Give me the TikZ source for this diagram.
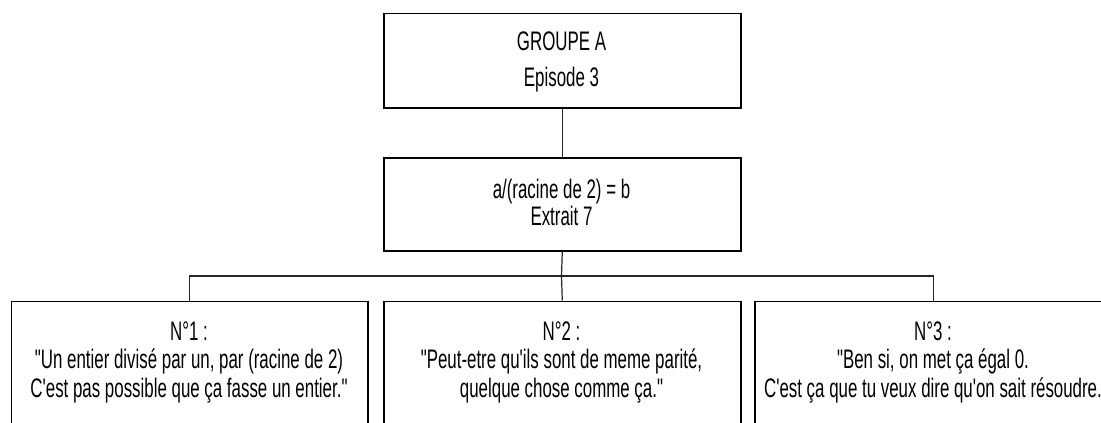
\documentclass[tikz,border=0pt]{standalone}
\usepackage{fontspec}
\setmainfont{Liberation Sans}[FakeStretch=0.63, Ligatures=TeXOff]
\begin{document}
\begin{tikzpicture}[x=1pt,y=-1pt,
  box/.style={draw=black, line width=1.6pt, rectangle, inner sep=0pt, anchor=north west},
  conn/.style={draw=black!85, line width=1.2pt},
  txt/.style={anchor=base, inner sep=0pt, font=\fontsize{26.8}{28}\selectfont}]
\useasboundingbox (0,0) rectangle (1101,423);
\clip (0,0) rectangle (1101,423);
\fill[white] (0,0) rectangle (1101,423);
% boxes
\node[box, minimum width=357pt, minimum height=94.3pt] (top) at (383,12.7) {};
\node[box, minimum width=357pt, minimum height=93pt] (mid) at (383,157) {};
\node[box, minimum width=356.3pt, minimum height=160pt] (b1) at (10.7,300.5) {};
\node[box, minimum width=357pt, minimum height=160pt] (b2) at (383,300.5) {};
\node[box, minimum width=358pt, minimum height=160pt] (b3) at (754,300.5) {};
\coordinate (bus) at (561.5,276);
% connectors
\draw[conn] (top.south) -- (mid.north);
\draw[conn] (mid.south) -- (bus);
\draw[conn] (b1.north) -- (b1.north |- bus) -- (b3.north |- bus) -- (b3.north);
\draw[conn] (bus) -- (b2.north);
% texts
\node[txt] (t1) at (561.5,50) {GROUPE A};
\node[txt] (t2) at (561.5,86) {Episode 3};
\node[txt] (m1) at (561.5,198) {a/(racine de 2) = b};
\node[txt] (m2) at (561.5,225) {Extrait 7};
\node[txt] (a1) at (189,340) {N°1 :};
\node[txt] (a2) at (189,368.5) {"Un entier divisé par un, par (racine de 2)};
\node[txt] (a3) at (189,397) {C'est pas possible que ça fasse un entier."};
\node[txt] (c1) at (561.5,340) {N°2 :};
\node[txt] (c2) at (561.5,368.5) {"Peut-etre qu'ils sont de meme parité,};
\node[txt] (c3) at (561.5,397) {quelque chose comme ça."};
\node[txt] (d1) at (933,340) {N°3 :};
\node[txt] (d2) at (933,368.5) {"Ben si, on met ça égal 0.};
\node[txt] (d3) at (933,397) {C'est ça que tu veux dire qu'on sait résoudre.};
\end{tikzpicture}
\end{document}
